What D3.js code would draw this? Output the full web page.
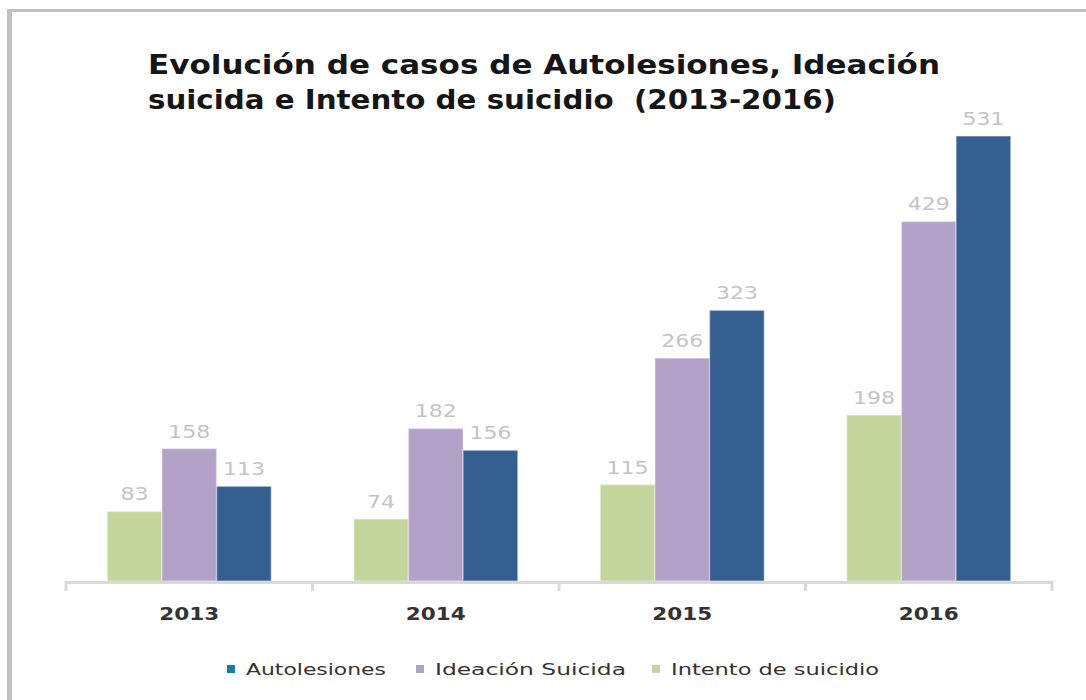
<!DOCTYPE html>
<html>
<head>
<meta charset="utf-8">
<script src="https://cdn.jsdelivr.net/npm/d3@7"></script>
<style>
  html, body { margin: 0; padding: 0; background: #fff; }
  svg { display: block; }
  text { white-space: pre; }
</style>
</head>
<body>
<svg id="chart" width="1086" height="700"></svg>
<script>
const titleLines = ["Evolución de casos de Autolesiones, Ideación", "suicida e Intento de suicidio  (2013-2016)"];
const years = ["2013", "2014", "2015", "2016"];
const seriesNames = ["Intento de suicidio", "Ideación Suicida", "Autolesiones"];
const intento = [83, 74, 115, 198];
const ideacion = [158, 182, 266, 429];
const autolesiones = [113, 156, 323, 531];
const legendOrder = ["Autolesiones", "Ideación Suicida", "Intento de suicidio"];
const yDomain = [0, 600];

const colors = {
  "Intento de suicidio": "#c3d69b",
  "Ideación Suicida": "#b3a2c7",
  "Autolesiones": "#365f91"
};
const legendColors = {
  "Autolesiones": "#1a7e9c",
  "Ideación Suicida": "#b3a2c7",
  "Intento de suicidio": "#c3d69b"
};

const values = { "Intento de suicidio": intento, "Ideación Suicida": ideacion, "Autolesiones": autolesiones };
const table = years.map((y, i) => ({ year: y, vals: seriesNames.map(s => ({ name: s, v: values[s][i] })) }));

const svg = d3.select("#chart");

// outer frame (top and left edges)
svg.append("line").attr("x1", 7).attr("x2", 1086).attr("y1", 10.5).attr("y2", 10.5)
  .attr("stroke", "#c0c0c0").attr("stroke-width", 3);
svg.append("line").attr("x1", 9.5).attr("x2", 9.5).attr("y1", 9).attr("y2", 700)
  .attr("stroke", "#c0c0c0").attr("stroke-width", 5);

// title
const tLens = [792, 688];
const title = svg.append("g");
titleLines.forEach((t, i) => {
  title.append("text")
    .attr("x", 148).attr("y", 74 + i * 35)
    .attr("font-family", "DejaVu Sans, sans-serif")
    .attr("font-size", 26).attr("font-weight", "bold")
    .attr("fill", "#161616")
    .attr("textLength", tLens[i]).attr("lengthAdjust", "spacingAndGlyphs")
    .text(t);
});

const left = 66, right = 1052, base = 581;
const x0 = d3.scaleBand().domain(years).range([left, right]).padding(0);
const bw = x0.bandwidth();
const groupW = 164;
const x1 = d3.scaleBand().domain(seriesNames).range([(bw - groupW) / 2, (bw + groupW) / 2]).padding(0);
const y = d3.scaleLinear().domain(yDomain).range([base, 78.2]);

const groups = svg.append("g").selectAll("g").data(table).join("g")
  .attr("transform", d => `translate(${x0(d.year)},0)`);

groups.selectAll("rect").data(d => d.vals).join("rect")
  .attr("x", d => x1(d.name))
  .attr("y", d => y(d.v))
  .attr("width", x1.bandwidth())
  .attr("height", d => base - y(d.v))
  .attr("fill", d => colors[d.name])
  .attr("stroke", "rgba(255,255,255,0.35)")
  .attr("stroke-width", 1.5);

groups.selectAll("text.val").data(d => d.vals).join("text")
  .attr("class", "val")
  .attr("x", d => x1(d.name) + x1.bandwidth() / 2)
  .attr("y", d => y(d.v) - 11)
  .attr("text-anchor", "middle")
  .attr("font-family", "DejaVu Sans, sans-serif")
  .attr("font-size", 18)
  .attr("fill", "#c4c4c4")
  .attr("textLength", d => String(d.v).length * 14)
  .attr("lengthAdjust", "spacingAndGlyphs")
  .text(d => d.v);

// x axis
const axis = svg.append("g");
axis.append("line").attr("x1", left).attr("x2", right).attr("y1", base + 1.5).attr("y2", base + 1.5)
  .attr("stroke", "#d9d9d9").attr("stroke-width", 3);
const boundaries = years.map(yv => x0(yv)).concat([right]);
axis.selectAll("line.tick").data(boundaries).join("line")
  .attr("class", "tick")
  .attr("x1", d => d).attr("x2", d => d)
  .attr("y1", base).attr("y2", base + 10)
  .attr("stroke", "#d9d9d9").attr("stroke-width", 3);
axis.selectAll("text").data(years).join("text")
  .attr("x", d => x0(d) + bw / 2)
  .attr("y", 620)
  .attr("text-anchor", "middle")
  .attr("font-family", "DejaVu Sans, sans-serif")
  .attr("font-size", 17).attr("font-weight", "bold")
  .attr("fill", "#333")
  .attr("textLength", 60).attr("lengthAdjust", "spacingAndGlyphs")
  .text(d => d);

// legend
const legX = [227, 416, 652];
const legLen = [140, 191, 208];
const legend = svg.append("g");
legendOrder.forEach((name, i) => {
  legend.append("rect").attr("x", legX[i]).attr("y", 665).attr("width", 8).attr("height", 8)
    .attr("fill", legendColors[name]);
  legend.append("text").attr("x", legX[i] + 19).attr("y", 675)
    .attr("font-family", "DejaVu Sans, sans-serif")
    .attr("font-size", 15)
    .attr("fill", "#333")
    .attr("textLength", legLen[i]).attr("lengthAdjust", "spacingAndGlyphs")
    .text(name);
});
</script>
</body>
</html>
